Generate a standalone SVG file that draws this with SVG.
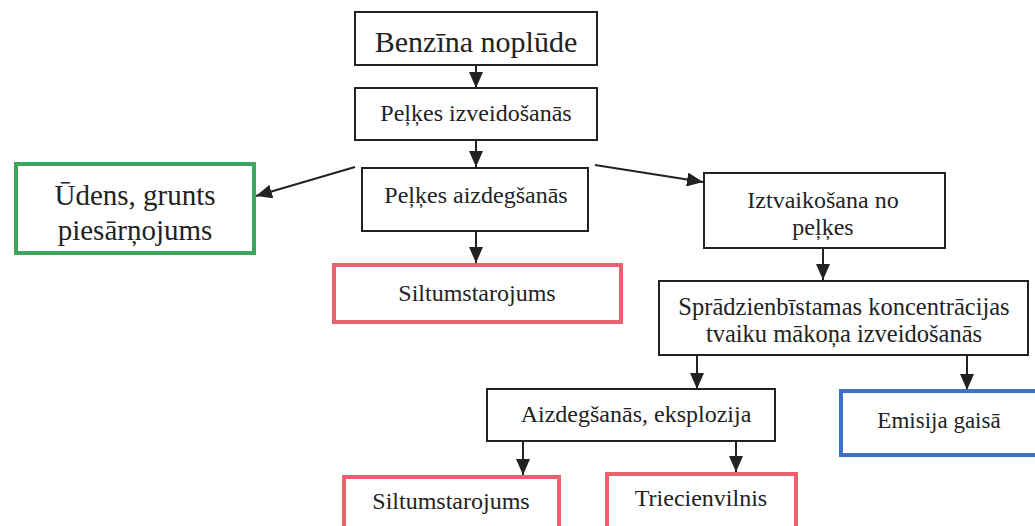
<svg xmlns="http://www.w3.org/2000/svg" width="1035" height="526" viewBox="0 0 1035 526">
<defs>
<marker id="ah" markerWidth="16" markerHeight="14" refX="16" refY="7" orient="auto" markerUnits="userSpaceOnUse">
<path d="M0,0 L16,7 L0,14 Z" fill="#222"/>
</marker>
<style>
.t{font-family:"Liberation Serif","Times New Roman",serif;font-size:24px;fill:#222;text-anchor:middle}
.b{fill:#fff;stroke:#222;stroke-width:2}
.r{fill:#fff;stroke:#e8636e;stroke-width:4}
.g{fill:#fff;stroke:#3ea55e;stroke-width:4}
.u{fill:#fff;stroke:#3f6fd0;stroke-width:4}
.c{stroke:#222;stroke-width:2;fill:none;marker-end:url(#ah)}
</style>
</defs>
<rect width="1035" height="526" fill="#fff"/>
<g id="connectors">
<line class="c" x1="476" y1="65" x2="476" y2="88"/>
<line class="c" x1="476" y1="140" x2="476" y2="167"/>
<line class="c" x1="476" y1="231" x2="476" y2="263"/>
<line class="c" x1="355" y1="167" x2="256" y2="196"/>
<line class="c" x1="595" y1="165" x2="703" y2="182"/>
<line class="c" x1="823" y1="248" x2="823" y2="280"/>
<line class="c" x1="697" y1="355" x2="697" y2="389"/>
<line class="c" x1="967" y1="355" x2="967" y2="390"/>
<line class="c" x1="523" y1="441" x2="523" y2="475"/>
<line class="c" x1="736" y1="441" x2="736" y2="472"/>
</g>
<g id="n1"><rect class="b" x="355" y="12" width="242" height="53"/><text class="t" x="476" y="52" style="font-size:30px">Benzīna noplūde</text></g>
<g id="n2"><rect class="b" x="355" y="88" width="242" height="52"/><text class="t" x="476" y="121">Peļķes izveidošanās</text></g>
<g id="n3"><rect class="b" x="362" y="168" width="226" height="63"/><text class="t" x="476" y="203">Peļķes aizdegšanās</text></g>
<g id="n4"><rect class="g" x="16" y="164" width="238" height="89"/><text class="t" x="135" y="205" style="font-size:29px">Ūdens, grunts</text><text class="t" x="135" y="240" style="font-size:29px">piesārņojums</text></g>
<g id="n5"><rect class="r" x="334" y="265" width="287" height="57"/><text class="t" x="477" y="301">Siltumstarojums</text></g>
<g id="n6"><rect class="b" x="704" y="173" width="241" height="75"/><text class="t" x="823" y="208">Iztvaikošana no</text><text class="t" x="823" y="235">peļķes</text></g>
<g id="n7"><rect class="b" x="659" y="281" width="369" height="74"/><text class="t" x="844" y="315" style="font-size:24.5px">Sprādzienbīstamas koncentrācijas</text><text class="t" x="844" y="342" style="font-size:24.5px">tvaiku mākoņa izveidošanās</text></g>
<g id="n8"><rect class="b" x="487" y="389" width="288" height="52"/><text class="t" x="636" y="422">Aizdegšanās, eksplozija</text></g>
<g id="n9"><rect class="u" x="841" y="391" width="196" height="64"/><text class="t" x="939" y="428" style="font-size:23px">Emisija gaisā</text></g>
<g id="n10"><rect class="r" x="344" y="477" width="215" height="60"/><text class="t" x="451" y="509">Siltumstarojums</text></g>
<g id="n11"><rect class="r" x="607" y="474" width="189" height="60"/><text class="t" x="701" y="506">Triecienvilnis</text></g>
</svg>
